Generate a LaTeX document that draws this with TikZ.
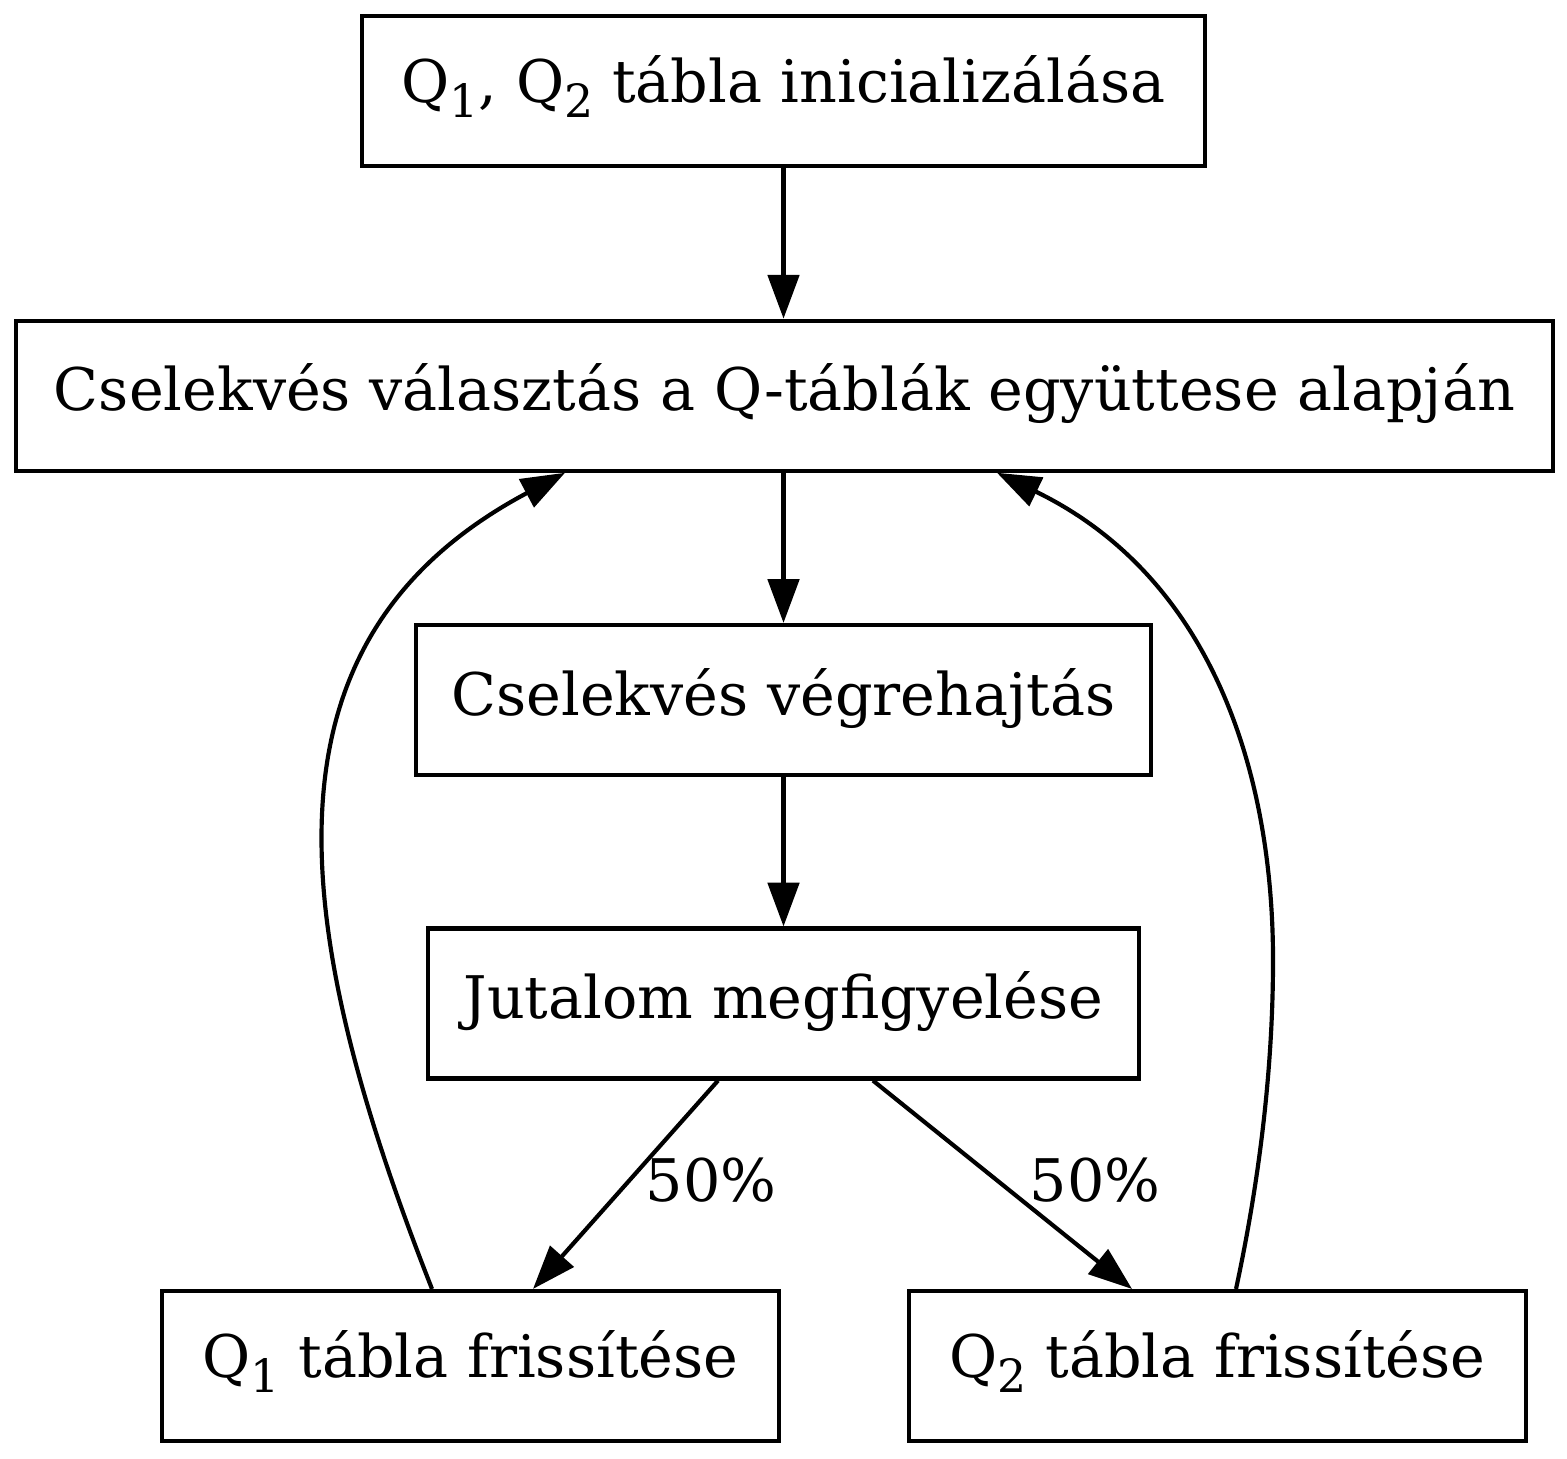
\documentclass[tikz,border=0pt]{standalone}
\usepackage{fontspec}
\setmainfont{DejaVu Serif}
\usetikzlibrary{arrows.meta,calc}
\newcommand\lowsub[1]{\raisebox{-3.5pt}{\fontsize{11pt}{13pt}\selectfont #1}}
\begin{document}
\begin{tikzpicture}[x=0.24pt,y=-0.24pt,
  box/.style={draw,line width=1pt,rectangle,inner sep=0pt,minimum height=36pt,
    font=\fontsize{14.1pt}{17pt}\selectfont,text height=10pt,text depth=2.8pt},
  subbox/.style={box,text depth=4.5pt},
  conn/.style={line width=1pt,-{Triangle[length=10.5pt,width=7.5pt]}},
  lbl/.style={font=\fontsize{14.1pt}{17pt}\selectfont,inner sep=0pt,anchor=base}]
\useasboundingbox (0,0) rectangle (1567,1458);
\node[subbox,minimum width=843*0.24pt] (n1) at (783.5,91.2) {Q\lowsub{1}, Q\lowsub{2} tábla inicializálása};
\node[box,minimum width=1537*0.24pt] (n2) at (784.5,395.7) {Cselekvés választás a Q-táblák együttese alapján};
\node[box,minimum width=735*0.24pt] (n3) at (783.5,700) {Cselekvés végrehajtás};
\node[box,minimum width=711*0.24pt] (n4) at (783.5,1003.5) {Jutalom megfigyelése};
\node[subbox,minimum width=617*0.24pt] (n5) at (470.5,1366) {Q\lowsub{1} tábla frissítése};
\node[subbox,minimum width=617*0.24pt] (n6) at (1217.5,1366) {Q\lowsub{2} tábla frissítése};
\draw[conn] (n1.south) -- (n1.south |- n2.north);
\draw[conn] (n2.south -| n3.north) -- (n3.north);
\draw[conn] (n3.south) -- (n4.north);
\draw[conn] ($(n4.south)+(-65.5,0)$) -- ($(n5.north)+(62.5,0)$);
\draw[conn] ($(n4.south)+(89.5,0)$) -- ($(n6.north)+(-85.5,0)$);
\node[lbl] (l1) at (711,1201) {50\%};
\node[lbl] (l2) at (1095,1201) {50\%};
\draw[conn] ($(n5.north)+(-38.5,0)$) .. controls (289,925.5) and (250.5,640) .. ($(n2.south)+(-219.5,0)$);
\coordinate (rc) at (1273,960);
\draw[conn] ($(n6.north)+(18.5,0)$) .. controls (1259,1182) and (1273,1070) .. (rc) .. controls (1273,780) and (1216,579) .. ($(n2.south)+(212.5,0)$);
\end{tikzpicture}
\end{document}
